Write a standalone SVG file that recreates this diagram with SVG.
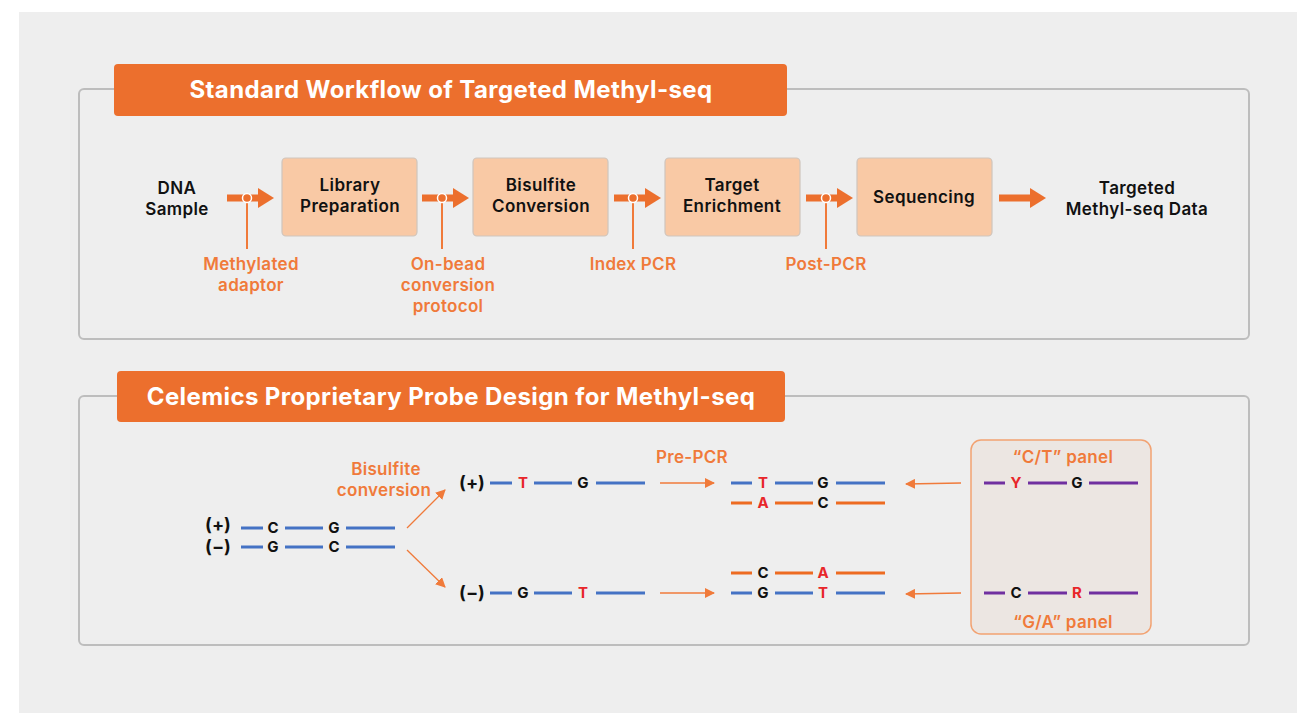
<svg xmlns="http://www.w3.org/2000/svg" width="1297" height="713" viewBox="0 0 1297 713">
<defs>
<style>
.frame{fill:none;stroke:#bdbdbd;stroke-width:2}
.hdr{fill:#ec6f2d}
.hdrt{font-family:Inter,"Noto Sans",sans-serif;font-weight:700;font-size:24px;letter-spacing:0.4px;fill:#fff;text-anchor:middle}
.box{fill:#f9c9a5;stroke:#cfc5bd;stroke-width:1.2}
.bt{font-family:Inter,"Noto Sans",sans-serif;font-weight:600;font-size:17px;letter-spacing:0.4px;fill:#111;text-anchor:middle}
.lbl{font-family:Inter,"Noto Sans",sans-serif;font-weight:600;font-size:17px;letter-spacing:0.3px;fill:#f07a3a;text-anchor:middle}
.shaft{stroke:#ec6f2d;stroke-width:7}
.head{fill:#ec6f2d}
.tick{stroke:#f07a3a;stroke-width:2}
.dot{fill:#ec6f2d;stroke:#fff;stroke-width:1.5}
.bl{stroke:#4472c4;stroke-width:3}
.or{stroke:#ed6b21;stroke-width:3}
.pu{stroke:#7030a0;stroke-width:3}
.nt{font-family:Inter,"Noto Sans",sans-serif;font-weight:700;font-size:15px;text-anchor:middle;fill:#111}
.red{fill:#e8262a}
.pm{font-family:Inter,"Noto Sans",sans-serif;font-weight:700;font-size:18px;fill:#111;text-anchor:middle}
.thin{stroke:#f07a3a;stroke-width:1.3;fill:none}
</style>
<marker id="ah" viewBox="0 0 10 10" refX="9" refY="5" markerWidth="10" markerHeight="10" markerUnits="userSpaceOnUse" orient="auto">
<path d="M0,0 L10,5 L0,10 Z" fill="#f07a3a"/>
</marker>
</defs>
<rect x="0" y="0" width="1297" height="713" fill="#ffffff"/>
<rect x="19" y="12" width="1278" height="701" fill="#eeeeee"/>

<g id="section1">
<rect class="frame" x="79" y="89" width="1170" height="250" rx="5"/>
<rect class="hdr" x="114" y="64" width="673" height="52" rx="4"/>
<text class="hdrt" x="451" y="98">Standard Workflow of Targeted Methyl-seq</text>
</g>

<g id="section2">
<rect class="frame" x="79" y="396" width="1170" height="249" rx="5"/>
<rect class="hdr" x="117" y="371" width="668" height="51" rx="4"/>
<text class="hdrt" x="451" y="405">Celemics Proprietary Probe Design for Methyl-seq</text>
</g>

<g id="dna-sample"><text class="bt" x="177" y="194">DNA</text><text class="bt" x="177" y="215">Sample</text></g>
<g id="library-prep"><rect class="box" x="282" y="158" width="135" height="78" rx="4"/><text class="bt" x="350" y="191">Library</text><text class="bt" x="350" y="212">Preparation</text></g>
<g id="bisulfite"><rect class="box" x="473" y="158" width="135" height="78" rx="4"/><text class="bt" x="541" y="191">Bisulfite</text><text class="bt" x="541" y="212">Conversion</text></g>
<g id="target-enrichment"><rect class="box" x="665" y="158" width="135" height="78" rx="4"/><text class="bt" x="732" y="191">Target</text><text class="bt" x="732" y="212">Enrichment</text></g>
<g id="sequencing"><rect class="box" x="857" y="158" width="135" height="78" rx="4"/><text class="bt" x="924" y="203">Sequencing</text></g>
<g id="data"><text class="bt" x="1137" y="194">Targeted</text><text class="bt" x="1137" y="215">Methyl-seq Data</text></g>

<g id="connectors">
<line class="shaft" x1="227" y1="198" x2="259" y2="198"/><path class="head" d="M258,188 L274,198 L258,208 Z"/>
<line class="shaft" x1="422" y1="198" x2="454" y2="198"/><path class="head" d="M453,188 L469,198 L453,208 Z"/>
<line class="shaft" x1="614" y1="198" x2="646" y2="198"/><path class="head" d="M645,188 L661,198 L645,208 Z"/>
<line class="shaft" x1="806" y1="198" x2="838" y2="198"/><path class="head" d="M837,188 L853,198 L837,208 Z"/>
<line class="shaft" x1="999" y1="198" x2="1031" y2="198"/><path class="head" d="M1030,188 L1046,198 L1030,208 Z"/>
<line class="tick" x1="247" y1="198" x2="247" y2="249"/><circle class="dot" cx="247" cy="198" r="4.5"/>
<line class="tick" x1="442" y1="198" x2="442" y2="249"/><circle class="dot" cx="442" cy="198" r="4.5"/>
<line class="tick" x1="633" y1="198" x2="633" y2="249"/><circle class="dot" cx="633" cy="198" r="4.5"/>
<line class="tick" x1="826" y1="198" x2="826" y2="249"/><circle class="dot" cx="826" cy="198" r="4.5"/>
<line class="thin" x1="407" y1="528" x2="445" y2="490" marker-end="url(#ah)"/>
<line class="thin" x1="407" y1="550" x2="445" y2="587" marker-end="url(#ah)"/>
<line class="thin" x1="660" y1="483" x2="714" y2="483" marker-end="url(#ah)"/>
<line class="thin" x1="660" y1="593" x2="714" y2="593" marker-end="url(#ah)"/>
<line class="thin" x1="961" y1="483" x2="906" y2="484" marker-end="url(#ah)"/>
<line class="thin" x1="961" y1="593" x2="906" y2="594" marker-end="url(#ah)"/>
</g>

<g id="workflow-labels">
<text class="lbl" x="251" y="270">Methylated</text><text class="lbl" x="251" y="291">adaptor</text>
<text class="lbl" x="448" y="270">On-bead</text><text class="lbl" x="448" y="291">conversion</text><text class="lbl" x="448" y="312">protocol</text>
<text class="lbl" x="633" y="270">Index PCR</text>
<text class="lbl" x="826" y="270">Post-PCR</text>
<text class="lbl" x="386" y="475">Bisulfite</text><text class="lbl" x="384" y="496">conversion</text>
<text class="lbl" x="692" y="463">Pre-PCR</text>
</g>

<g id="original-dna">
<text class="pm" x="218" y="531">(+)</text>
<text class="pm" x="218" y="553">(−)</text>
<line class="bl" x1="241" y1="528" x2="263" y2="528"/><line class="bl" x1="285" y1="528" x2="323" y2="528"/><line class="bl" x1="346" y1="528" x2="395" y2="528"/>
<text class="nt" x="273" y="533">C</text><text class="nt" x="334" y="533">G</text>
<line class="bl" x1="241" y1="547" x2="263" y2="547"/><line class="bl" x1="285" y1="547" x2="323" y2="547"/><line class="bl" x1="346" y1="547" x2="395" y2="547"/>
<text class="nt" x="273" y="552">G</text><text class="nt" x="334" y="552">C</text>
</g>

<g id="converted-plus">
<text class="pm" x="472" y="489">(+)</text>
<line class="bl" x1="490" y1="483" x2="512" y2="483"/><line class="bl" x1="534" y1="483" x2="572" y2="483"/><line class="bl" x1="596" y1="483" x2="645" y2="483"/>
<text class="nt red" x="523" y="488">T</text><text class="nt" x="583" y="488">G</text>
</g>
<g id="converted-minus">
<text class="pm" x="472" y="599">(−)</text>
<line class="bl" x1="490" y1="593" x2="512" y2="593"/><line class="bl" x1="534" y1="593" x2="572" y2="593"/><line class="bl" x1="596" y1="593" x2="645" y2="593"/>
<text class="nt" x="523" y="598">G</text><text class="nt red" x="583" y="598">T</text>
</g>

<g id="pcr-plus">
<line class="bl" x1="731" y1="483" x2="752" y2="483"/><line class="bl" x1="775" y1="483" x2="813" y2="483"/><line class="bl" x1="836" y1="483" x2="885" y2="483"/>
<text class="nt red" x="763" y="488">T</text><text class="nt" x="823" y="488">G</text>
<line class="or" x1="731" y1="503" x2="752" y2="503"/><line class="or" x1="775" y1="503" x2="813" y2="503"/><line class="or" x1="836" y1="503" x2="885" y2="503"/>
<text class="nt red" x="763" y="508">A</text><text class="nt" x="823" y="508">C</text>
</g>
<g id="pcr-minus">
<line class="or" x1="731" y1="573" x2="752" y2="573"/><line class="or" x1="775" y1="573" x2="813" y2="573"/><line class="or" x1="836" y1="573" x2="885" y2="573"/>
<text class="nt" x="763" y="578">C</text><text class="nt red" x="823" y="578">A</text>
<line class="bl" x1="731" y1="593" x2="752" y2="593"/><line class="bl" x1="775" y1="593" x2="813" y2="593"/><line class="bl" x1="836" y1="593" x2="885" y2="593"/>
<text class="nt" x="763" y="598">G</text><text class="nt red" x="823" y="598">T</text>
</g>

<g id="probe-panel">
<rect x="971" y="440" width="180" height="194" rx="10" fill="#ece6e2" stroke="#f2a272" stroke-width="1.5"/>
<text class="lbl" x="1063" y="463">“C/T” panel</text>
<line class="pu" x1="984" y1="483" x2="1005" y2="483"/><line class="pu" x1="1028" y1="483" x2="1067" y2="483"/><line class="pu" x1="1089" y1="483" x2="1138" y2="483"/>
<text class="nt red" x="1016" y="488">Y</text><text class="nt" x="1077" y="488">G</text>
<line class="pu" x1="984" y1="593" x2="1005" y2="593"/><line class="pu" x1="1028" y1="593" x2="1067" y2="593"/><line class="pu" x1="1089" y1="593" x2="1138" y2="593"/>
<text class="nt" x="1016" y="598">C</text><text class="nt red" x="1077" y="598">R</text>
<text class="lbl" x="1063" y="628">“G/A” panel</text>
</g>
</svg>
